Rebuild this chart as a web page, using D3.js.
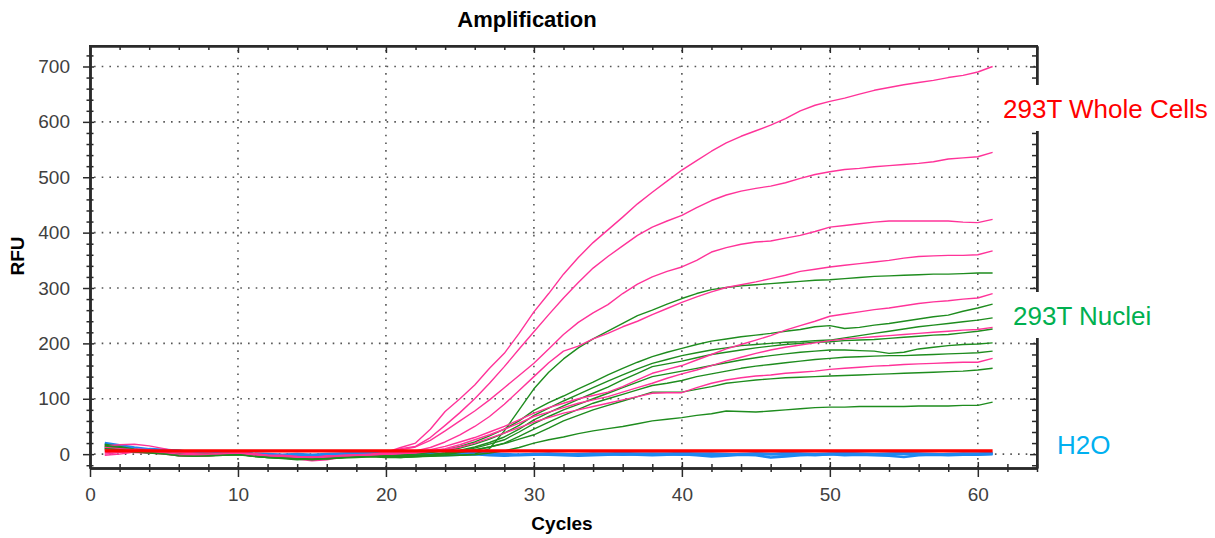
<!DOCTYPE html>
<html>
<head>
<meta charset="utf-8">
<script src="https://cdn.jsdelivr.net/npm/d3@7"></script>
<style>
  html, body { margin: 0; padding: 0; background: #fff; }
  svg { display: block; font-family: "Liberation Sans", Arial, sans-serif; }
</style>
</head>
<body>
<svg id="chart" width="1215" height="538"></svg>
<script>
// ---------------- DATA ----------------
const cycles = [1,2,3,4,5,6,7,8,9,10,11,12,13,14,15,16,17,18,19,20,
  21,22,23,24,25,26,27,28,29,30,31,32,33,34,35,36,37,38,39,40,
  41,42,43,44,45,46,47,48,49,50,51,52,53,54,55,56,57,58,59,60,61];

const xTicks = [0, 10, 20, 30, 40, 50, 60];
const yTicks = [0, 100, 200, 300, 400, 500, 600, 700];

// 293T Whole Cells (pink)
const wholeP1 = [2,6,10,8,4,0,1,2,0,3,1,-2,-3,-5,-6,-4,-2,-1,0,3,
  12,20,45,77,100,125,155,182,218,257,290,325,355,382,405,428,452,473,493,513,
  530,547,562,574,584,594,606,620,630,637,643,650,657,662,667,671,675,680,684,690,700];
const wholeP2 = [0,3,5,6,3,1,-1,0,2,1,-1,-3,-2,-4,-5,-6,-3,-2,0,2,
  10,14,30,52,75,100,128,158,190,221,252,282,310,336,357,376,395,410,421,431,
  445,458,468,475,480,484,490,498,505,510,514,516,519,521,523,525,528,533,535,537,545];
const wholeP3 = [15,17,18,15,10,4,2,0,-1,1,-2,-4,-6,-9,-12,-10,-6,-3,-1,2,
  8,13,25,42,60,78,98,120,142,164,190,216,238,255,270,290,307,320,330,338,
  350,365,373,379,383,385,390,395,402,410,413,416,419,421,421,421,421,421,419,418,424];
const wholeP4 = [5,4,6,3,2,-2,-4,-3,-1,4,0,-3,-5,-4,-6,-3,-4,-2,-1,1,
  4,6,12,22,35,50,68,90,115,140,165,186,195,208,218,230,240,252,263,274,
  284,293,301,306,311,317,323,330,334,338,341,344,347,350,354,357,358,359,359,360,367];
const wholeP5 = [-2,0,4,6,5,3,0,-1,0,2,-1,-4,-5,-8,-7,-5,-4,-3,-2,0,
  2,4,8,14,22,30,40,50,62,74,84,92,100,106,112,122,134,146,153,160,
  170,180,190,198,206,214,224,232,240,249,253,257,261,264,268,272,275,277,280,282,290];
const wholeP6 = [8,6,3,2,0,-3,-2,0,1,3,1,-2,-4,-6,-5,-7,-5,-3,-2,-1,
  1,3,6,10,17,26,35,45,56,68,76,84,92,98,104,112,120,128,137,145,
  152,160,168,175,182,188,193,197,201,205,208,210,212,214,216,218,220,222,224,225,229];
const wholeP7 = [12,10,8,5,3,0,-1,-2,0,2,-1,-3,-3,-5,-6,-4,-3,-2,-1,0,
  1,2,5,8,13,20,29,38,48,58,66,74,80,86,92,98,104,110,111,111,
  120,128,134,138,141,143,146,148,150,153,155,157,159,160,162,163,164,165,166,166,173];

// 293T Nuclei (green)
const nucG1 = [14,10,6,3,1,-3,-4,-2,-1,0,-3,-5,-6,-8,-7,-6,-5,-4,-3,-4,
  -5,-4,-3,-2,-2,0,10,42,80,118,148,172,192,208,222,236,250,260,271,281,
  290,297,301,304,306,308,310,312,314,315,317,319,321,322,323,324,325,325,326,327,327];
const nucG2 = [18,14,9,6,3,0,-2,-3,-1,1,-2,-4,-5,-7,-6,-5,-4,-3,-2,-2,
  -1,1,4,8,14,22,33,45,60,79,93,105,118,130,143,155,166,176,184,191,
  198,204,208,212,215,218,222,225,230,232,227,229,233,236,240,244,248,251,258,264,271];
const nucG3 = [10,8,6,4,2,-1,-3,-2,0,1,-3,-4,-6,-8,-9,-7,-5,-4,-3,-3,
  -2,0,3,6,11,18,27,38,52,70,83,96,108,120,132,143,154,164,171,178,
  183,188,192,196,198,200,202,203,205,206,210,214,218,222,226,230,233,236,239,242,246];
const nucG4 = [12,9,5,2,1,-2,-1,0,-2,0,-4,-6,-7,-9,-8,-6,-5,-5,-4,-5,
  -6,-4,-2,2,7,13,21,31,45,62,75,87,99,110,121,134,146,158,163,168,
  174,180,184,188,192,195,198,200,202,203,205,206,207,209,211,213,215,216,219,222,226];
const nucG5 = [16,12,7,4,2,-1,-3,-1,0,1,-2,-5,-6,-7,-8,-9,-6,-5,-4,-4,
  -4,-3,-1,2,6,11,18,26,40,55,68,80,90,100,110,120,130,140,145,150,
  155,160,165,170,174,178,181,184,186,188,188,187,186,182,184,190,193,196,198,199,201];
const nucG6 = [8,7,5,3,1,-2,-3,-2,-1,0,-3,-5,-7,-8,-7,-6,-6,-4,-3,-4,
  -5,-5,-3,-1,3,7,13,20,32,45,58,70,81,92,100,108,116,124,128,133,
  140,145,150,155,159,162,165,168,171,173,175,176,177,178,178,179,180,181,182,183,186];
const nucG7 = [14,11,7,4,2,0,-2,-3,-2,-1,-3,-6,-7,-8,-10,-8,-6,-5,-4,-3,
  -3,-2,-1,1,4,8,13,19,27,35,47,60,70,80,88,96,104,112,112,112,
  117,122,128,131,134,136,138,139,140,141,142,143,144,145,146,147,148,149,150,152,155];
const nucG8 = [10,8,4,2,0,-3,-4,-3,-2,-1,-4,-6,-8,-10,-9,-8,-7,-6,-5,-6,
  -6,-5,-4,-3,-2,-1,2,6,12,20,26,31,37,42,46,50,55,60,63,66,
  70,73,78,77,76,78,80,82,84,85,85,86,86,86,86,87,87,87,88,88,94];

// H2O (blue)
const h2oB1 = [18,14,10,8,6,5,3,2,1,2,0,-1,-2,-1,-3,-2,-1,0,1,0,
  1,0,-1,-2,-1,0,-2,-3,-1,0,-1,-2,-3,-2,-1,0,-1,-2,-1,0,
  -2,-4,-3,-1,-2,-6,-4,-2,-1,0,-2,-1,-2,-3,-5,-2,-1,-2,-1,-1,0];
const h2oB2 = [12,9,6,5,7,6,2,1,0,1,-2,-3,-2,-4,-3,-2,0,1,2,1,
  0,1,0,-1,0,1,0,-1,-2,-1,0,-1,0,1,0,-1,0,1,0,-1,
  0,1,0,-1,1,0,-1,0,-2,0,1,0,-1,0,1,0,-1,0,1,0,1];
const h2oB3 = [20,16,12,9,8,6,4,3,2,3,1,0,-1,0,-1,0,1,2,1,2,
  3,2,1,0,1,2,1,0,-1,0,1,0,-1,0,1,2,1,0,1,2,
  1,0,-1,0,1,0,2,1,0,1,2,1,0,1,2,1,0,-1,0,1,2];

// red flat trace
const redR1 = [6,6,6,6,6,6,6,6,6,6,6,6,6,6,6,6,6,6,6,6,
  6,6,6,6,6,6,6,6,6,6,6,6,6,6,6,6,6,6,6,6,
  6,6,6,6,6,6,6,6,6,6,6,6,6,6,6,6,6,6,6,6,6];

const pinkSeries = [wholeP1, wholeP2, wholeP3, wholeP4, wholeP5, wholeP6, wholeP7];
const greenSeries = [nucG1, nucG2, nucG3, nucG4, nucG5, nucG6, nucG7, nucG8];
const blueSeries = [h2oB1, h2oB2, h2oB3];

const labels = [
  {text: "293T Whole Cells", color: "#FF0000"},
  {text: "293T Nuclei", color: "#00B050"},
  {text: "H2O", color: "#00B0F0"}
];

// ---------------- CHART ----------------
const svg = d3.select("#chart");
const L = 90, R = 1037, T = 46, B = 468;

const x = d3.scaleLinear().domain([0, 64]).range([L, R]);
const y = d3.scaleLinear().domain([-25, 737]).range([B, T]);

const xMinor = d3.range(0, 65, 2).filter(v => v % 10 !== 0);
const yMinor = d3.range(-20, 737, 20).filter(v => v % 100 !== 0);

// grid
const grid = svg.append("g").attr("stroke", "#555").attr("stroke-width", 1.6)
  .attr("stroke-dasharray", "1.6,6.1").attr("fill", "none");
grid.selectAll("line.gx").data(xTicks.filter(v => v > 0)).join("line")
  .attr("x1", d => x(d)).attr("x2", d => x(d)).attr("y1", T + 4).attr("y2", B);
grid.selectAll("line.gy").data(yTicks).join("line")
  .attr("y1", d => y(d)).attr("y2", d => y(d)).attr("x1", L + 4).attr("x2", R);

// lines
const line = d3.line().x((d, i) => x(cycles[i])).y(d => y(d));
const lg = svg.append("g").attr("fill", "none").attr("stroke-linejoin", "round");
lg.selectAll("path.b").data(blueSeries).join("path")
  .attr("d", line).attr("stroke", "#1E88F0").attr("stroke-width", 2.6);
const mixed = [];
greenSeries.forEach((s, i) => { mixed.push({s, c: "#1E8C1E"}); if (pinkSeries[i]) mixed.push({s: pinkSeries[i], c: "#FF3399"}); });
lg.selectAll("path.m").data(mixed).join("path")
  .attr("d", d => line(d.s)).attr("stroke", d => d.c).attr("stroke-width", 1.4);
lg.append("path").attr("d", line(redR1)).attr("stroke", "#FF0000").attr("stroke-width", 3.2);

// axes
const axisColor = "#2a2a2a";
function styleAxis(g, labelsOn) {
  g.select(".domain").attr("stroke", axisColor).attr("stroke-width", 2);
  g.selectAll(".tick line").attr("stroke", axisColor).attr("stroke-width", 1.5);
  if (!labelsOn) g.selectAll(".tick text").remove();
  else g.selectAll(".tick text").attr("fill", "#404040").attr("font-size", 19)
    .attr("font-family", "'Liberation Sans', Arial, sans-serif");
}
// bottom
svg.append("g").attr("transform", `translate(0,${B})`)
  .call(d3.axisBottom(x).tickValues(xTicks).tickSize(9).tickPadding(11).tickSizeOuter(0))
  .call(g => styleAxis(g, true));
svg.append("g").attr("transform", `translate(0,${B})`)
  .call(d3.axisTop(x).tickValues(xTicks).tickSize(6).tickSizeOuter(0))
  .call(g => styleAxis(g, false));
svg.append("g").attr("transform", `translate(0,${B})`)
  .call(d3.axisBottom(x).tickValues(xMinor).tickSize(4).tickSizeOuter(0))
  .call(g => styleAxis(g, false));
svg.append("g").attr("transform", `translate(0,${B})`)
  .call(d3.axisTop(x).tickValues(xMinor).tickSize(4).tickSizeOuter(0))
  .call(g => styleAxis(g, false));
// top
svg.append("g").attr("transform", `translate(0,${T})`)
  .call(d3.axisBottom(x).tickValues(xTicks).tickSize(7).tickSizeOuter(0))
  .call(g => styleAxis(g, false));
svg.append("g").attr("transform", `translate(0,${T})`)
  .call(d3.axisBottom(x).tickValues(xMinor).tickSize(4).tickSizeOuter(0))
  .call(g => styleAxis(g, false));
// left
svg.append("g").attr("transform", `translate(${L},0)`)
  .call(d3.axisLeft(y).tickValues(yTicks).tickSize(7).tickPadding(13).tickSizeOuter(0))
  .call(g => styleAxis(g, true));
svg.append("g").attr("transform", `translate(${L},0)`)
  .call(d3.axisRight(y).tickValues(yTicks).tickSize(4).tickSizeOuter(0))
  .call(g => styleAxis(g, false));
svg.append("g").attr("transform", `translate(${L},0)`)
  .call(d3.axisLeft(y).tickValues(yMinor).tickSize(3.5).tickSizeOuter(0))
  .call(g => styleAxis(g, false));
svg.append("g").attr("transform", `translate(${L},0)`)
  .call(d3.axisRight(y).tickValues(yMinor).tickSize(3.5).tickSizeOuter(0))
  .call(g => styleAxis(g, false));
// right
svg.append("g").attr("transform", `translate(${R},0)`)
  .call(d3.axisLeft(y).tickValues(yTicks).tickSize(7).tickSizeOuter(0))
  .call(g => styleAxis(g, false));
svg.append("g").attr("transform", `translate(${R},0)`)
  .call(d3.axisLeft(y).tickValues(yMinor).tickSize(5).tickSizeOuter(0))
  .call(g => styleAxis(g, false));
// frame top & full right line
svg.append("line").attr("x1", L - 1).attr("x2", R + 1).attr("y1", T).attr("y2", T)
  .attr("stroke", axisColor).attr("stroke-width", 2);
svg.append("line").attr("x1", R).attr("x2", R).attr("y1", T).attr("y2", B)
  .attr("stroke", axisColor).attr("stroke-width", 2);

// titles
svg.append("text").attr("x", 527).attr("y", 27).attr("text-anchor", "middle")
  .attr("font-weight", "bold").attr("font-size", 22).attr("fill", "#000").text("Amplification");
svg.append("text").attr("x", 562).attr("y", 530).attr("text-anchor", "middle")
  .attr("font-weight", "bold").attr("font-size", 19).attr("fill", "#000").text("Cycles");
svg.append("text").attr("transform", "translate(24,256) rotate(-90)").attr("text-anchor", "middle")
  .attr("font-weight", "bold").attr("font-size", 19).attr("fill", "#000").text("RFU");

// label boxes
const boxes = [
  {x: 994, y: 85, w: 221, h: 46, tx: 1003, ty: 118},
  {x: 994, y: 292, w: 221, h: 46, tx: 1013, ty: 325},
  {x: 1050, y: 425, w: 80, h: 36, tx: 1057, ty: 454}
];
labels.forEach((lab, i) => {
  const b = boxes[i];
  if (i < 2) svg.append("rect").attr("x", b.x).attr("y", b.y).attr("width", b.w).attr("height", b.h).attr("fill", "#fff");
  svg.append("text").attr("x", b.tx).attr("y", b.ty).attr("font-size", 26)
    .attr("fill", lab.color).text(lab.text);
});
</script>
</body>
</html>
